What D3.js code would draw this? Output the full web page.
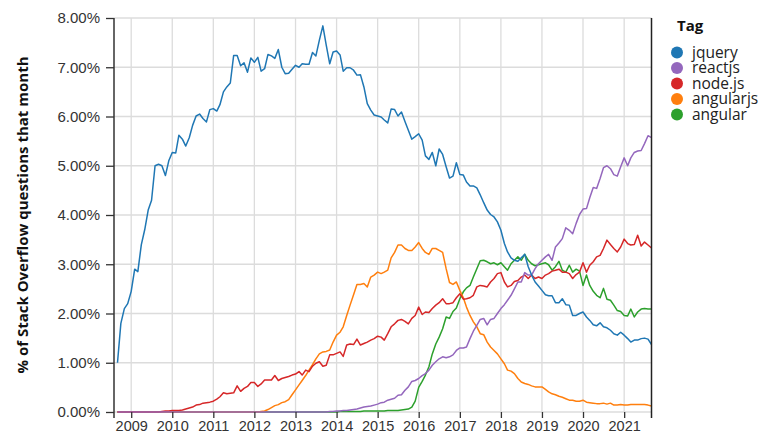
<!DOCTYPE html>
<html>
<head>
<meta charset="utf-8">
<script src="https://cdn.jsdelivr.net/npm/d3@7"></script>
<style>
    body { margin: 0; background: #fff; }
    .tick text { font-family: "Liberation Sans", Arial, sans-serif; font-size: 15px; fill: #333; }
    .x-axis .tick text { font-size: 14.5px; }
</style>
</head>
<body>
<svg id="tags-chart"></svg>
<script>
// Tags shown, in legend order
const tags = ["jquery", "reactjs", "node.js", "angularjs", "angular"];
const tagColors = ["#1f77b4", "#9467bd", "#d62728", "#ff7f0e", "#2ca02c"];

// Monthly points run from Sep 2008 to Sep 2021
const firstMonth = new Date(2008, 8, 1);
const yTicks = [0, 1, 2, 3, 4, 5, 6, 7, 8];
const xTickYears = [2009, 2010, 2011, 2012, 2013, 2014, 2015, 2016, 2017, 2018, 2019, 2020, 2021];

// % of questions per month, one row per year
const jquery = [
    1.0, 1.8, 2.1, 2.2,
    2.45, 2.9, 2.85, 3.4, 3.7, 4.1, 4.3, 5.0, 5.03, 5.0, 4.8, 5.1,
    5.27, 5.26, 5.62, 5.54, 5.4, 5.57, 5.82, 6.01, 6.05, 5.96, 5.89, 6.14,
    6.16, 6.11, 6.24, 6.5, 6.6, 6.68, 7.24, 7.24, 7.03, 7.09, 6.9, 7.19,
    7.1, 7.2, 6.92, 6.97, 7.26, 7.23, 7.18, 7.36, 7.0, 6.87, 6.88, 6.96,
    7.04, 7.0, 7.07, 7.06, 7.06, 7.3, 7.23, 7.55, 7.84, 7.45, 7.07, 7.31,
    7.33, 7.25, 6.92, 6.99, 6.99, 6.94, 6.84, 6.85, 6.6, 6.26, 6.13, 6.03,
    6.01, 5.99, 5.93, 5.87, 6.15, 6.14, 6.01, 6.09, 5.9, 5.72, 5.54, 5.59,
    5.65, 5.52, 5.2, 5.13, 5.27, 5.0, 5.34, 5.23, 4.98, 4.75, 4.79, 5.06,
    4.82, 4.81, 4.67, 4.59, 4.59, 4.55, 4.41, 4.25, 4.1, 4.01, 3.96, 3.86,
    3.69, 3.42, 3.25, 3.13, 3.08, 3.06, 3.13, 3.2, 2.95, 2.78, 2.64, 2.56,
    2.47, 2.38, 2.36, 2.36, 2.22, 2.22, 2.3, 2.18, 2.17, 1.96, 1.96, 2.0,
    2.03, 1.93, 1.86, 1.77, 1.75, 1.81, 1.73, 1.71, 1.66, 1.59, 1.56, 1.62,
    1.56, 1.49, 1.42, 1.46, 1.46, 1.49, 1.5, 1.48, 1.37,
];
const reactjs = [
    0, 0, 0, 0,
    0, 0, 0, 0, 0, 0, 0, 0, 0, 0, 0, 0,
    0, 0, 0, 0, 0, 0, 0, 0, 0, 0, 0, 0,
    0, 0, 0, 0, 0, 0, 0, 0, 0, 0, 0, 0,
    0, 0, 0, 0, 0, 0, 0, 0, 0, 0, 0, 0,
    0, 0, 0, 0, 0, 0, 0, 0, 0, 0, 0.01, 0.01,
    0.02, 0.02, 0.03, 0.03, 0.04, 0.05, 0.06, 0.08, 0.1, 0.11, 0.12, 0.14,
    0.16, 0.19, 0.2, 0.24, 0.26, 0.28, 0.34, 0.35, 0.44, 0.51, 0.62, 0.64,
    0.68, 0.74, 0.78, 0.85, 0.95, 1.02, 1.08, 1.12, 1.1, 1.12, 1.16, 1.25,
    1.3, 1.3, 1.32, 1.49, 1.64, 1.76, 1.88, 1.9, 1.77, 1.88, 1.9, 2.0,
    2.1, 2.18, 2.27, 2.37, 2.5, 2.64, 2.64, 2.83, 2.78, 2.78, 2.91, 3.01,
    3.08, 3.15, 3.2, 3.08, 3.35, 3.43, 3.52, 3.74, 3.69, 3.62, 3.83, 4.01,
    4.12, 4.13, 4.35, 4.56, 4.54, 4.74, 4.96, 5.0, 4.94, 4.82, 4.79, 4.98,
    5.16, 5.0, 5.16, 5.27, 5.3, 5.31, 5.45, 5.61, 5.57,
];
const nodejs = [
    0, 0, 0, 0,
    0, 0, 0, 0, 0, 0, 0, 0, 0, 0.01, 0.02, 0.02,
    0.03, 0.03, 0.03, 0.04, 0.06, 0.08, 0.1, 0.14, 0.15, 0.18, 0.19, 0.2,
    0.22, 0.26, 0.31, 0.39, 0.37, 0.38, 0.39, 0.53, 0.42, 0.48, 0.52, 0.6,
    0.6, 0.52, 0.57, 0.65, 0.65, 0.65, 0.74, 0.64, 0.68, 0.7, 0.72, 0.75,
    0.77, 0.82, 0.75, 0.85, 0.82, 0.93, 0.99, 1.02, 0.93, 0.95, 1.16, 1.16,
    1.19, 1.22, 1.13, 1.36, 1.38, 1.37, 1.48, 1.36, 1.39, 1.42, 1.46, 1.49,
    1.54, 1.52, 1.46, 1.59, 1.73, 1.79, 1.86, 1.88, 1.84, 1.79, 1.9, 1.96,
    2.13, 1.98, 2.03, 2.02, 2.1, 2.17, 2.22, 2.3, 2.2, 2.2, 2.22, 2.32,
    2.4, 2.29, 2.3, 2.32, 2.37, 2.54, 2.57, 2.56, 2.54, 2.64, 2.71, 2.81,
    2.83, 2.64, 2.54, 2.57, 2.65, 2.67, 2.74, 2.78, 2.71, 2.78, 2.71, 2.74,
    2.71, 2.78, 2.81, 2.86, 2.88, 2.9, 2.84, 2.84, 2.81, 2.71, 2.79, 2.84,
    3.03, 2.84, 2.98, 3.05, 3.15, 3.18, 3.32, 3.49, 3.4, 3.32, 3.25, 3.35,
    3.51, 3.42, 3.39, 3.4, 3.59, 3.37, 3.45, 3.39, 3.33,
];
const angularjs = [
    0, 0, 0, 0,
    0, 0, 0, 0, 0, 0, 0, 0, 0, 0, 0, 0,
    0, 0, 0, 0, 0, 0, 0, 0, 0, 0, 0, 0,
    0, 0, 0, 0, 0, 0, 0, 0, 0, 0, 0, 0,
    0, 0, 0.01, 0.02, 0.05, 0.09, 0.13, 0.15, 0.19, 0.21, 0.25, 0.35,
    0.45, 0.55, 0.64, 0.74, 0.85, 0.96, 1.08, 1.18, 1.22, 1.23, 1.26, 1.42,
    1.56, 1.62, 1.73, 1.96, 2.17, 2.38, 2.59, 2.59, 2.61, 2.54, 2.74, 2.78,
    2.84, 2.81, 2.84, 2.88, 3.13, 3.24, 3.39, 3.39, 3.32, 3.28, 3.28, 3.35,
    3.44, 3.32, 3.24, 3.2, 3.32, 3.32, 3.28, 3.24, 2.91, 2.63, 2.59, 2.64,
    2.47, 2.32, 2.13, 1.96, 1.83, 1.73, 1.59, 1.57, 1.42, 1.32, 1.25, 1.18,
    1.08, 0.98, 0.85, 0.83, 0.78, 0.68, 0.61, 0.58, 0.56, 0.53, 0.51, 0.51,
    0.51, 0.46, 0.41, 0.37, 0.35, 0.32, 0.3, 0.27, 0.24, 0.24, 0.22, 0.22,
    0.24, 0.2, 0.19, 0.18, 0.17, 0.17, 0.18, 0.16, 0.18, 0.14, 0.14, 0.15,
    0.14, 0.14, 0.15, 0.15, 0.15, 0.15, 0.15, 0.14, 0.12,
];
const angular = [
    0, 0, 0, 0,
    0, 0, 0, 0, 0, 0, 0, 0, 0, 0, 0, 0,
    0, 0, 0, 0, 0, 0, 0, 0, 0, 0, 0, 0,
    0, 0, 0, 0, 0, 0, 0, 0, 0, 0, 0, 0,
    0, 0, 0, 0, 0, 0, 0, 0, 0, 0, 0, 0,
    0, 0, 0, 0, 0, 0, 0, 0, 0, 0, 0, 0,
    0, 0.01, 0.01, 0.01, 0.01, 0.01, 0.01, 0.01, 0.02, 0.02, 0.02, 0.02,
    0.02, 0.02, 0.02, 0.03, 0.03, 0.03, 0.03, 0.04, 0.05, 0.06, 0.1, 0.22,
    0.5, 0.62, 0.75, 0.92, 1.18, 1.38, 1.52, 1.69, 1.93, 1.9, 2.04, 2.11,
    2.3, 2.44, 2.52, 2.57, 2.74, 2.91, 3.07, 3.08, 3.05, 3.01, 3.03, 2.99,
    3.03, 2.95, 2.88, 3.01, 3.08, 3.15, 3.08, 3.2, 3.08, 3.01, 2.97, 2.99,
    3.01, 3.03, 2.99, 2.88, 2.95, 3.06, 2.88, 2.84, 2.98, 2.84, 2.9, 2.86,
    2.57, 2.78, 2.57, 2.45, 2.37, 2.32, 2.51, 2.29, 2.27, 2.17, 2.06, 2.04,
    1.96, 1.95, 2.09, 1.93, 2.03, 2.09, 2.1, 2.09, 2.09,
];
const seriesValues = [jquery, reactjs, nodejs, angularjs, angular];

const drawTagsChart = () => {
    const width = 771;
    const height = 434;
    const margin = { top: 18, right: 120, bottom: 22, left: 114 };

    const svg = d3
        .select("#tags-chart")
        .attr("width", width)
        .attr("height", height);

    // Build date/value rows for each tag
    const series = tags.map((tag, i) => ({
        tag: tag,
        color: tagColors[i],
        values: seriesValues[i].map((v, j) => ({
            date: d3.timeMonth.offset(firstMonth, j),
            value: v,
        })),
    }));

    const x = d3
        .scaleTime()
        .domain([new Date(2008, 7, 1), new Date(2021, 8, 1)])
        .range([margin.left, width - margin.right + 0.5]);

    const y = d3
        .scaleLinear()
        .domain([0, 8])
        .range([height - margin.bottom, margin.top]);

    const xTicks = xTickYears.map((yr) => new Date(yr, 0, 1));

    // Grid lines
    const grid = svg.append("g").attr("class", "grid");
    grid.selectAll("line.v")
        .data(xTicks)
        .enter()
        .append("line")
        .attr("x1", (d) => x(d))
        .attr("x2", (d) => x(d))
        .attr("y1", y(8))
        .attr("y2", y(0))
        .attr("stroke", "#dcdcdc")
        .attr("stroke-width", 1.3);
    grid.selectAll("line.h")
        .data(yTicks)
        .enter()
        .append("line")
        .attr("x1", x.range()[0])
        .attr("x2", x.range()[1])
        .attr("y1", (d) => y(d))
        .attr("y2", (d) => y(d))
        .attr("stroke", "#dcdcdc")
        .attr("stroke-width", 1.3);

    // Lines, drawn last-tag-first so jquery sits on top
    const line = d3
        .line()
        .x((d) => x(d.date))
        .y((d) => y(d.value));

    svg.append("g")
        .selectAll("path")
        .data(series.slice().reverse())
        .enter()
        .append("path")
        .attr("d", (d) => line(d.values))
        .attr("fill", "none")
        .attr("stroke", (d) => d.color)
        .attr("stroke-width", 1.5)
        .attr("stroke-linejoin", "round");

    // Axes
    const yAxis = svg
        .append("g")
        .attr("transform", `translate(${x.range()[0]},0)`)
        .call(
            d3.axisLeft(y)
                .tickValues(yTicks)
                .tickFormat((d) => d3.format(".2f")(d) + "%")
                .tickSizeInner(8)
                .tickSizeOuter(0)
                .tickPadding(6)
        );
    yAxis.select(".domain").attr("stroke", "#333").attr("stroke-width", 1.5)
        .attr("d", `M0,${y(8)}V${y(0) + 6}`);
    yAxis.selectAll(".tick line").attr("stroke", "#333").attr("stroke-width", 1.3);

    const xAxis = svg
        .append("g")
        .attr("class", "x-axis")
        .attr("transform", `translate(0,${y(0)})`)
        .call(
            d3.axisBottom(x)
                .tickValues(xTicks)
                .tickFormat(d3.timeFormat("%Y"))
                .tickSizeInner(6)
                .tickSizeOuter(6)
                .tickPadding(3)
        );
    xAxis.select(".domain").attr("stroke", "none");
    xAxis.selectAll(".tick line").attr("stroke", "#333").attr("stroke-width", 1.3);

    // Dark right edge of the plot
    svg.append("line")
        .attr("x1", x.range()[1])
        .attr("x2", x.range()[1])
        .attr("y1", y(8))
        .attr("y2", y(0) + 6)
        .attr("stroke", "#222")
        .attr("stroke-width", 1.5);

    // Y axis title
    svg.append("text")
        .attr("transform", `translate(28,${(y(0) + y(8)) / 2}) rotate(-90)`)
        .attr("text-anchor", "middle")
        .style("font-family", "'Open Sans', sans-serif")
        .style("font-size", "15px")
        .style("font-weight", "bold")
        .attr("fill", "#111")
        .text("% of Stack Overflow questions that month");

    // Legend
    const legend = svg.append("g").attr("transform", "translate(677,0)");
    legend.append("text")
        .attr("x", 0)
        .attr("y", 31)
        .style("font-family", "'Open Sans', sans-serif")
        .style("font-size", "15px")
        .style("font-weight", "bold")
        .attr("fill", "#111")
        .text("Tag");

    const items = legend
        .selectAll("g.item")
        .data(series)
        .enter()
        .append("g")
        .attr("class", "item")
        .attr("transform", (d, i) => `translate(0,${52.5 + i * 15.5})`);
    items.append("circle")
        .attr("cx", 0)
        .attr("cy", 0)
        .attr("r", 6)
        .attr("fill", (d) => d.color);
    items.append("text")
        .attr("x", 15)
        .attr("y", 0)
        .attr("dy", "0.33em")
        .style("font-family", "'Open Sans', sans-serif")
        .style("font-size", "15.5px")
        .attr("fill", "#222")
        .text((d) => d.tag);
};

drawTagsChart();
</script>
</body>
</html>
